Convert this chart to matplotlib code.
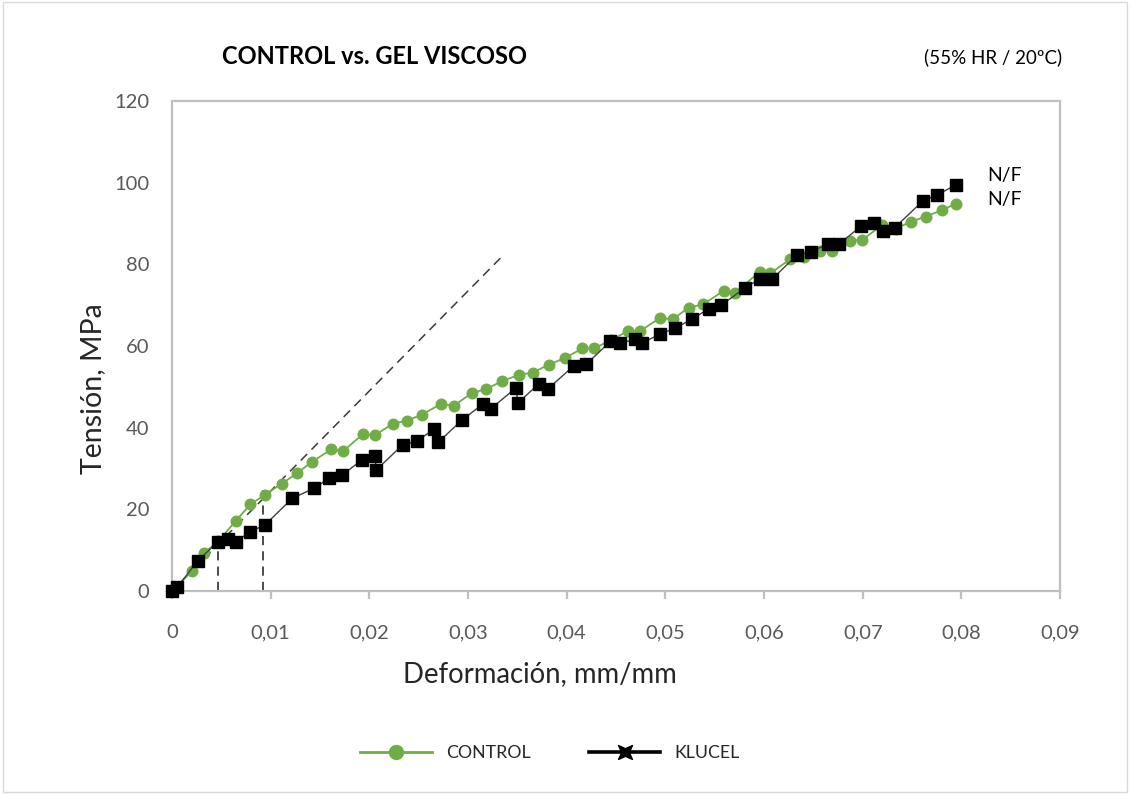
import matplotlib
matplotlib.use("Agg")
import matplotlib.pyplot as plt
from matplotlib.lines import Line2D
from matplotlib.path import Path
from matplotlib.patches import Rectangle

plt.rcParams['font.family'] = ['Lato', 'DejaVu Sans']

# Strain (mm/mm) and stress (MPa) readings
control_strain = [0.0, 0.0020, 0.00325, 0.0047, 0.00644, 0.00794, 0.00945, 0.01114,
                  0.01265, 0.01423, 0.01616, 0.01734, 0.01937, 0.02054, 0.02239, 0.0238,
                  0.02533, 0.02726, 0.02858, 0.0304, 0.03178, 0.03348, 0.03512, 0.03658,
                  0.03816, 0.03986, 0.0416, 0.04273, 0.0445, 0.04622, 0.04746, 0.04942,
                  0.05078, 0.05236, 0.05382, 0.05591, 0.05703, 0.05956, 0.06065, 0.06268,
                  0.06403, 0.06572, 0.06691, 0.06869, 0.06995, 0.07198, 0.07333, 0.07485,
                  0.07637, 0.07806, 0.07941]
control_stress = [0.0, 4.8, 9.3, 12.2, 17.1, 21.2, 23.6, 26.3,
                  28.8, 31.7, 34.7, 34.2, 38.5, 38.1, 41.0, 41.7,
                  43.2, 45.8, 45.4, 48.5, 49.4, 51.4, 52.9, 53.5,
                  55.4, 57.1, 59.4, 59.4, 61.4, 63.7, 63.7, 66.8,
                  66.6, 69.4, 70.2, 73.5, 72.9, 78.2, 77.8, 81.3,
                  81.9, 83.3, 83.3, 85.8, 86.0, 89.6, 88.7, 90.4,
                  91.7, 93.3, 94.8]

klucel_strain = [0.0, 0.00054, 0.0026, 0.0047, 0.00571, 0.00649, 0.00791, 0.00943,
                 0.0122, 0.01443, 0.01592, 0.01721, 0.01924, 0.02057, 0.02069, 0.02338,
                 0.02482, 0.0266, 0.02698, 0.02936, 0.03151, 0.0323, 0.03489, 0.03504,
                 0.0372, 0.0381, 0.0407, 0.04197, 0.04442, 0.04544, 0.04689, 0.04764,
                 0.04942, 0.05094, 0.05271, 0.05439, 0.05568, 0.05811, 0.05956, 0.06082,
                 0.06336, 0.06481, 0.06646, 0.06758, 0.06985, 0.07113, 0.07208, 0.07325,
                 0.07613, 0.07755, 0.07941]
klucel_stress = [0.1, 0.9, 7.4, 12.1, 12.7, 12.1, 14.5, 16.2,
                 22.7, 25.2, 27.6, 28.3, 32.1, 33.0, 29.6, 35.8,
                 36.7, 39.7, 36.4, 41.8, 45.8, 44.6, 49.8, 46.0,
                 50.8, 49.5, 55.1, 55.5, 61.1, 60.7, 61.6, 60.7,
                 62.9, 64.3, 66.6, 69.1, 70.0, 74.3, 76.4, 76.4,
                 82.3, 83.1, 85.0, 84.9, 89.4, 90.1, 88.2, 89.0,
                 95.6, 97.0, 99.4]

# Elastic-slope guide and the two strain markers under it
slope_line_strain = [0.0, 0.0336]
slope_line_stress = [0.0, 82.3]
marker_strain = [0.0047, 0.0092]
marker_stress_top = [13.6, 25.3]

x_ticks = [0, 0.01, 0.02, 0.03, 0.04, 0.05, 0.06, 0.07, 0.08, 0.09]
x_tick_labels = ['0', '0,01', '0,02', '0,03', '0,04', '0,05', '0,06', '0,07', '0,08', '0,09']
y_ticks = [0, 20, 40, 60, 80, 100, 120]

GREEN = '#70ad47'
FRAME = '#bfbfbf'
TICK_TEXT = '#595959'

fig = plt.figure(figsize=(11.30, 7.94), dpi=100)
fig.patches.append(Rectangle((0.003, 0.002), 0.994, 0.996, transform=fig.transFigure,
                             fill=False, edgecolor='#d9d9d9', linewidth=1.0))
ax = fig.add_axes([0.1522, 0.2557, 0.7859, 0.6171])

# dashed guides
ax.plot(slope_line_strain, slope_line_stress, linestyle=(0, (6, 4)), color='#3a3a3a',
        linewidth=1.1, zorder=2)
for xs, ys in zip(marker_strain, marker_stress_top):
    ax.plot([xs, xs], [0, ys], linestyle=(0, (6, 4)), color='#1a1a1a', linewidth=1.1, zorder=2)

ax.plot(control_strain, control_stress, color=GREEN, linewidth=1.3, marker='o',
        markersize=7.6, markerfacecolor=GREEN, markeredgecolor=GREEN, zorder=3,
        clip_on=False)
ax.plot(klucel_strain, klucel_stress, color='#404040', linewidth=1.0, marker='s',
        markersize=8.6, markerfacecolor='black', markeredgecolor='black', zorder=4,
        clip_on=False)

ax.set_xlim(0, 0.09)
ax.set_ylim(0, 120)
ax.set_xticks(x_ticks)
ax.set_xticklabels(x_tick_labels)
ax.set_yticks(y_ticks)

for side in ['left', 'right', 'top', 'bottom']:
    ax.spines[side].set_color(FRAME)
    ax.spines[side].set_linewidth(1.6)
ax.tick_params(axis='x', direction='out', length=6, width=1.6, color=FRAME,
               labelsize=14.5, labelcolor=TICK_TEXT, pad=18)
ax.tick_params(axis='y', length=0, labelsize=14.5, labelcolor=TICK_TEXT, pad=16.5)

fig.text(93 / 1130, 1 - 389 / 794, 'Tensión, MPa', fontsize=20.5, color='#262626',
         ha='center', va='center', rotation=90)
fig.text(540 / 1130, 1 - 674 / 794, 'Deformación, mm/mm', fontsize=19.8, color='#262626',
         ha='center', va='center')

fig.text(222 / 1130, 1 - 56 / 794, 'CONTROL vs. GEL VISCOSO', fontsize=17,
         fontweight='bold', ha='left', va='center', color='black')
fig.text(1062 / 1130, 1 - 57 / 794, '(55% HR / 20ºC)', fontsize=13.5,
         ha='right', va='center', color='black')

ax.text(0.0826, 101.8, 'N/F', fontsize=14, ha='left', va='center', color='black')
ax.text(0.0826, 95.9, 'N/F', fontsize=14, ha='left', va='center', color='black')

# pinched-square marker used for the KLUCEL legend entry
pinch = Path([(-1, -1), (0, -0.55), (1, -1), (0.55, 0), (1, 1), (0, 0.55), (-1, 1),
              (-0.55, 0), (-1, -1)],
             [Path.MOVETO] + [Path.LINETO] * 7 + [Path.CLOSEPOLY])
handles = [
    Line2D([], [], color=GREEN, linewidth=2.0, marker='o', markersize=10,
           markerfacecolor=GREEN, markeredgecolor=GREEN),
    Line2D([], [], color='black', linewidth=2.6, marker=pinch, markersize=10,
           markerfacecolor='black', markeredgecolor='black'),
]
fig.legend(handles, ['CONTROL', 'KLUCEL'], loc='center', bbox_to_anchor=(550 / 1130, 1 - 753 / 794),
           ncol=2, frameon=False, fontsize=12.8, handlelength=4.0, handletextpad=0.8,
           columnspacing=3.3, labelcolor='#262626')

fig.savefig('out.png', dpi=100)
